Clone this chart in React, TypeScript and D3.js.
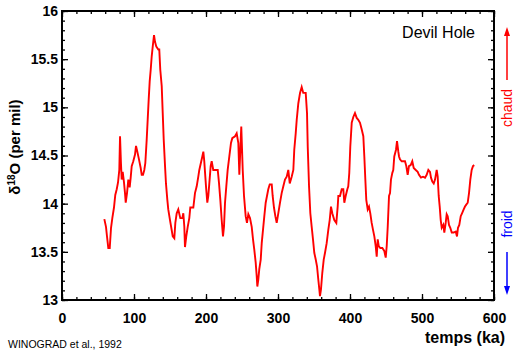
import React, { useRef, useEffect } from "react";
import * as d3 from "d3";

// Devil Hole calcite record
const ageKa = [
  58.8, 61.1, 62.5, 64.3, 66.3, 68.1, 69.9, 72.2, 74.0, 76.0, 77.8, 79.6, 80.6, 81.9, 82.9, 84.3, 86.1, 87.5, 88.5, 90.3,
  92.1, 94.0, 95.4, 96.8, 99.0, 101.4, 102.8, 104.6, 106.9, 109.3, 110.7, 112.5, 114.3, 115.7, 117.6, 119.0, 120.4, 121.8, 123.2, 124.6,
  126.0, 127.8, 129.2, 131.0, 133.8, 135.1, 136.5, 138.5, 139.9, 141.3, 143.1, 144.4, 146.3, 147.6, 150.0, 151.8, 153.8, 156.0, 157.4, 159.3,
  161.5, 164.3, 167.1, 168.5, 169.9, 170.8, 172.6, 174.6, 176.8, 178.2, 182.4, 184.7, 187.1, 189.3, 190.7, 194.9, 196.3, 197.6, 198.6, 200.0,
  201.8, 203.2, 204.6, 206.5, 207.9, 210.1, 216.3, 218.1, 219.9, 221.8, 223.6, 225.0, 226.4, 228.2, 230.1, 232.4, 234.7, 236.5, 240.3, 242.6,
  244.9, 246.3, 248.2, 249.0, 251.0, 252.8, 255.1, 256.9, 258.8, 261.1, 263.5, 265.3, 267.1, 269.0, 270.4, 271.3, 272.6, 274.0, 276.0, 277.4,
  279.2, 281.0, 282.9, 284.7, 286.5, 288.5, 291.3, 292.6, 294.4, 296.3, 298.2, 300.4, 302.8, 305.1, 307.4, 309.7, 312.1, 314.3, 316.3, 319.0,
  321.3, 322.6, 324.6, 326.0, 328.2, 330.6, 332.9, 335.1, 338.5, 340.3, 341.3, 343.1, 344.9, 346.8, 348.6, 350.4, 352.4, 354.2, 356.0, 357.4,
  358.3, 359.7, 361.5, 363.5, 365.3, 367.6, 369.9, 371.8, 373.6, 375.4, 378.2, 381.0, 382.9, 383.8, 386.1, 388.5, 390.7, 392.1, 394.0, 396.3,
  397.6, 399.0, 400.4, 402.4, 404.6, 406.9, 409.3, 411.5, 413.9, 416.3, 418.5, 419.9, 421.3, 422.6, 424.6, 426.4, 428.2, 430.1, 431.9, 433.8,
  435.7, 437.1, 438.5, 439.9, 442.1, 444.9, 447.6, 449.6, 451.0, 452.4, 454.2, 455.6, 456.9, 458.8, 460.1, 461.5, 463.9, 465.3, 467.1, 468.1,
  469.4, 471.8, 474.0, 476.4, 478.2, 480.1, 481.9, 484.3, 486.5, 488.5, 491.3, 494.0, 495.8, 498.6, 501.4, 504.2, 506.5, 508.8, 511.1, 512.5,
  514.3, 516.3, 518.1, 520.4, 521.8, 523.2, 524.6, 526.0, 527.4, 529.6, 531.0, 532.9, 534.3, 535.7, 537.5, 539.3, 541.3, 544.0, 546.8, 548.6,
  550.0, 551.8, 553.8, 555.6, 557.9, 559.7, 561.5, 563.5, 565.3, 567.1, 569.0, 570.8, 572.6
]
const d18O = [
  13.84, 13.76, 13.66, 13.54, 13.54, 13.75, 13.85, 13.96, 14.09, 14.15, 14.22, 14.35, 14.70, 14.42, 14.25, 14.33, 14.22, 14.11, 14.01, 14.11,
  14.25, 14.17, 14.27, 14.39, 14.44, 14.51, 14.60, 14.54, 14.46, 14.37, 14.30, 14.30, 14.35, 14.42, 14.66, 14.87, 15.08, 15.27, 15.39, 15.53,
  15.63, 15.75, 15.68, 15.63, 15.60, 15.60, 15.39, 15.22, 14.94, 14.66, 14.39, 14.21, 14.04, 13.94, 13.83, 13.75, 13.66, 13.64, 13.80, 13.90,
  13.94, 13.85, 13.85, 13.90, 13.76, 13.55, 13.66, 13.76, 13.85, 13.96, 13.96, 14.11, 14.18, 14.28, 14.35, 14.49, 14.54, 14.44, 14.33, 14.18,
  14.01, 14.08, 14.21, 14.39, 14.44, 14.35, 14.35, 14.21, 14.04, 13.83, 13.66, 13.76, 14.01, 14.18, 14.35, 14.49, 14.63, 14.68, 14.70, 14.73,
  14.63, 14.30, 14.66, 14.80, 14.35, 14.08, 13.87, 13.80, 13.89, 13.85, 13.76, 13.63, 13.52, 13.39, 13.25, 13.14, 13.21, 13.32, 13.42, 13.59,
  13.73, 13.87, 14.01, 14.08, 14.15, 14.20, 14.20, 14.08, 13.96, 13.87, 13.80, 13.90, 14.01, 14.11, 14.18, 14.25, 14.28, 14.35, 14.21, 14.28,
  14.35, 14.56, 14.73, 14.87, 15.04, 15.15, 15.21, 15.15, 15.15, 14.94, 14.59, 14.18, 13.90, 13.76, 13.63, 13.49, 13.42, 13.35, 13.21, 13.11,
  13.04, 13.11, 13.28, 13.42, 13.49, 13.59, 13.73, 13.83, 13.97, 13.90, 13.83, 13.80, 13.97, 14.08, 14.08, 14.15, 14.15, 14.01, 14.08, 14.15,
  14.18, 14.32, 14.59, 14.84, 14.90, 14.94, 14.89, 14.87, 14.84, 14.77, 14.70, 14.49, 14.25, 14.04, 13.94, 13.97, 13.90, 13.80, 13.73, 13.66,
  13.56, 13.45, 13.63, 13.56, 13.54, 13.54, 13.51, 13.44, 13.56, 13.76, 14.08, 14.11, 14.25, 14.32, 14.35, 14.49, 14.56, 14.65, 14.54, 14.49,
  14.46, 14.44, 14.44, 14.44, 14.39, 14.30, 14.39, 14.40, 14.44, 14.37, 14.35, 14.33, 14.30, 14.27, 14.28, 14.27, 14.30, 14.35, 14.33, 14.27,
  14.23, 14.21, 14.25, 14.35, 14.28, 14.08, 13.97, 13.83, 13.75, 13.78, 13.70, 13.80, 13.89, 13.87, 13.78, 13.75, 13.70, 13.70, 13.71, 13.66,
  13.75, 13.78, 13.87, 13.90, 13.94, 13.97, 13.99, 14.01, 14.11, 14.25, 14.35, 14.39, 14.40
]

const xTicks = [0, 100, 200, 300, 400, 500, 600]
const yTicks = [13, 13.5, 14, 14.5, 15, 15.5, 16]

const font = '"Liberation Sans", Arial, sans-serif'

const App = () => {
  const chart = useRef<SVGSVGElement>(null)

  useEffect(() => {
    const svg = d3.select(chart.current)
    svg.selectAll('*').remove()

    const x = d3.scaleLinear().domain([0, 600]).range([62, 494])
    const y = d3.scaleLinear().domain([13, 16]).range([300, 11])

    const styleAxis = (g: any) => {
      g.select('.domain').remove()
      g.selectAll('line').attr('stroke', '#000').attr('stroke-width', 1.3)
      g.selectAll('text')
        .attr('fill', '#000')
        .style('font-family', font)
        .style('font-size', '14px')
        .style('font-weight', 'bold')
    }

    // minor ticks
    const xMinor = d3.range(0, 601, 20)
    const yMinor = d3.range(13, 16.001, 0.1)
    svg.append('g').attr('transform', `translate(0,${y(13)})`)
      .call(d3.axisBottom(x).tickValues(xMinor).tickSize(-3).tickFormat(() => '')).call(styleAxis)
    svg.append('g').attr('transform', `translate(0,${y(16)})`)
      .call(d3.axisTop(x).tickValues(xMinor).tickSize(-3).tickFormat(() => '')).call(styleAxis)
    svg.append('g').attr('transform', `translate(${x(0)},0)`)
      .call(d3.axisLeft(y).tickValues(yMinor).tickSize(-3).tickFormat(() => '')).call(styleAxis)
    svg.append('g').attr('transform', `translate(${x(600)},0)`)
      .call(d3.axisRight(y).tickValues(yMinor).tickSize(-3).tickFormat(() => '')).call(styleAxis)

    // major ticks + labels
    svg.append('g').attr('transform', `translate(0,${y(13)})`)
      .call(d3.axisBottom(x).tickValues(xTicks).tickSize(-6).tickPadding(13).tickFormat(d3.format('d')))
      .call(styleAxis)
    svg.append('g').attr('transform', `translate(0,${y(16)})`)
      .call(d3.axisTop(x).tickValues(xTicks).tickSize(-6).tickFormat(() => '')).call(styleAxis)
    svg.append('g').attr('transform', `translate(${x(0)},0)`)
      .call(d3.axisLeft(y).tickValues(yTicks).tickSize(-6).tickPadding(4).tickFormat(d => String(d)))
      .call(styleAxis)
    svg.append('g').attr('transform', `translate(${x(600)},0)`)
      .call(d3.axisRight(y).tickValues(yTicks).tickSize(-6).tickFormat(() => '')).call(styleAxis)

    // frame
    svg.append('rect')
      .attr('x', x(0)).attr('y', y(16))
      .attr('width', x(600) - x(0)).attr('height', y(13) - y(16))
      .attr('fill', 'none').attr('stroke', '#000').attr('stroke-width', 2)

    // curve
    const line = d3.line<number>()
      .x((d, i) => x(ageKa[i]))
      .y(d => y(d))
    svg.append('path')
      .datum(d18O)
      .attr('d', line)
      .attr('fill', 'none')
      .attr('stroke', '#ff0000')
      .attr('stroke-width', 1.9)
      .attr('stroke-linejoin', 'miter')

    // labels
    svg.append('text')
      .attr('x', 475).attr('y', 38)
      .attr('text-anchor', 'end')
      .style('font-family', font).style('font-size', '16px')
      .text('Devil Hole')

    svg.append('text')
      .attr('x', 465).attr('y', 343)
      .attr('text-anchor', 'middle')
      .style('font-family', font).style('font-size', '16px').style('font-weight', 'bold')
      .text('temps (ka)')

    svg.append('text')
      .attr('x', 8).attr('y', 348)
      .style('font-family', font).style('font-size', '10.5px')
      .text('WINOGRAD et al., 1992')

    const yl = svg.append('text')
      .attr('transform', 'translate(19.5,147) rotate(-90)')
      .attr('text-anchor', 'middle')
      .style('font-family', font).style('font-size', '15px').style('font-weight', 'bold')
    yl.append('tspan').text('δ')
    yl.append('tspan').attr('dy', -5).style('font-size', '10px').text('18')
    yl.append('tspan').attr('dy', 5).text('O (per mil)')

    // chaud / froid arrows
    svg.append('line').attr('x1', 507).attr('x2', 507).attr('y1', 33).attr('y2', 80)
      .attr('stroke', '#ff0000').attr('stroke-width', 1.5)
    svg.append('path').attr('d', 'M507,27 L504,36 L510,36 Z').attr('fill', '#ff0000')
    svg.append('text')
      .attr('transform', 'translate(512,108) rotate(-90)')
      .attr('text-anchor', 'middle')
      .attr('fill', '#ff0000')
      .style('font-family', font).style('font-size', '14px')
      .text('chaud')

    svg.append('line').attr('x1', 507).attr('x2', 507).attr('y1', 252).attr('y2', 289)
      .attr('stroke', '#0000ff').attr('stroke-width', 1.5)
    svg.append('path').attr('d', 'M507,295 L504,286 L510,286 Z').attr('fill', '#0000ff')
    svg.append('text')
      .attr('transform', 'translate(512,224) rotate(-90)')
      .attr('text-anchor', 'middle')
      .attr('fill', '#0000ff')
      .style('font-family', font).style('font-size', '14px')
      .text('froid')
  }, [])

  return (
    <div style={{ position: 'absolute', left: 0, top: 0 }}>
      <svg ref={chart} width={527} height={351} style={{ display: 'block', background: '#fff' }} />
    </div>
  )
}

export default App
